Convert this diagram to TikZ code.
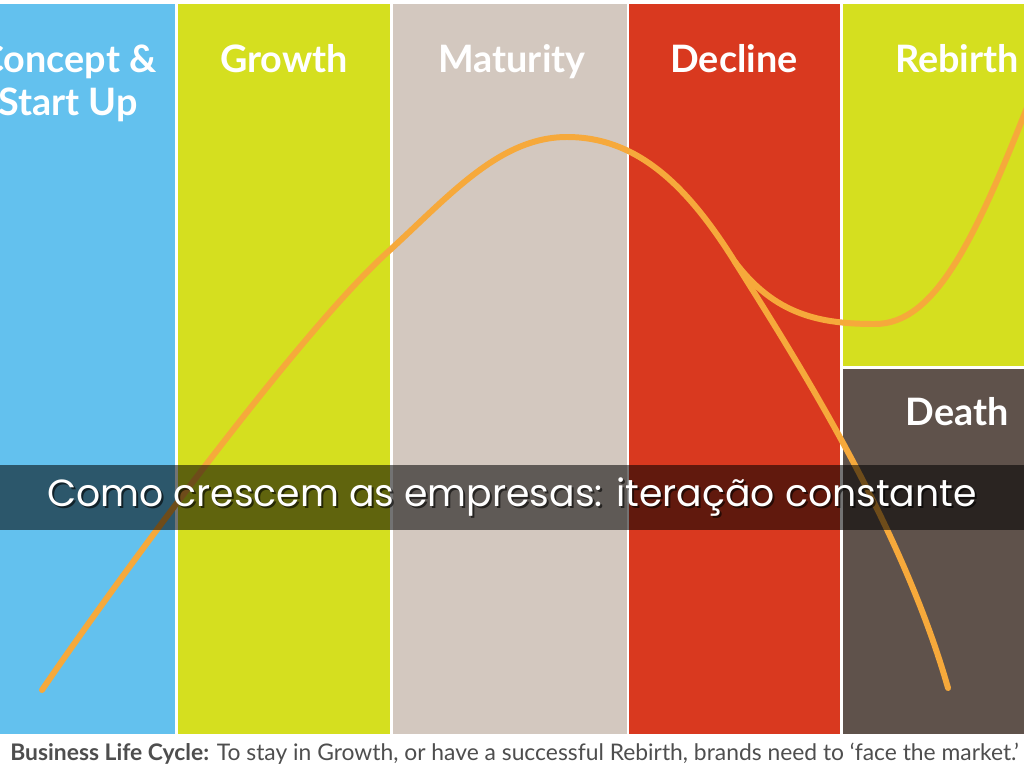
\documentclass[tikz,border=0pt]{standalone}
\usepackage{fontspec}
\setmainfont{Lato}
\newfontfamily\titlefont{Poppins}
\usepackage{tikz}
\usetikzlibrary{positioning}
\definecolor{skyblue}{HTML}{63C1EE}
\definecolor{limegreen}{HTML}{D5DF1F}
\definecolor{stone}{HTML}{D3C8BF}
\definecolor{brick}{HTML}{D9391F}
\definecolor{umber}{HTML}{5F524B}
\definecolor{amber}{HTML}{F6A93B}
\definecolor{captiongrey}{HTML}{4E4E4E}
\tikzset{
  phase/.style={text=white, font=\bfseries\fontsize{21.5}{24.4}\selectfont, align=center, inner sep=0pt, anchor=base},
  lifecurve/.style={draw=amber, line width=3.4pt, line cap=round, line join=round},
  band/.style={fill=black, fill opacity=0.55},
  headline/.style={text=white, font=\titlefont\fontsize{21.5}{25}\selectfont, inner sep=0pt},
  caption/.style={text=captiongrey, font=\fontsize{13}{15}\selectfont, inner sep=0pt, anchor=base west},
}

\begin{document}
\begin{tikzpicture}[x=0.02cm, y=-0.02cm]
  \useasboundingbox (0,0) rectangle (1024,768);
  \clip (0,0) rectangle (1024,768);
  \fill[white] (0,0) rectangle (1024,768);
  % columns
  \fill[skyblue] (0,4) rectangle (175,734);
  \fill[limegreen] (178,4) rectangle (390,734);
  \fill[stone] (393,4) rectangle (627,734);
  \fill[brick] (629,4) rectangle (840,734);
  \fill[limegreen] (843,4) rectangle (1024,366);
  \fill[umber] (843,369) rectangle (1024,734);
  % phase labels
  \node[phase] (concept) at (68,115) {Concept \&\\Start Up};
  \node[phase] (growth) at (284,72) {Growth};
  \node[phase] (maturity) at (512,72) {Maturity};
  \node[phase] (decline) at (734,72) {Decline};
  \node[phase] (rebirth) at (957,72) {Rebirth};
  \node[phase] (death) at (957,425) {Death};
  % the curve
  \draw[lifecurve] (42,690) .. controls (110,590) and (300,330) .. (390,250)
    .. controls (450,195) and (500,137) .. (567,137)
    .. controls (640,137) and (690,190) .. (735,262)
    .. controls (790,350) and (900,520) .. (948,688);
  \draw[lifecurve] (735,262) .. controls (775,315) and (820,324) .. (875,324)
    .. controls (935,324) and (975,240) .. (1030,100);
  % title band
  \fill[band] (0,465) rectangle (1024,530);
  \node[headline, text=black, opacity=0.6] at (514,499) {Como crescem as empresas: itera\c{c}\~ao constante};
  \node[headline] (title) at (512,497) {Como crescem as empresas: itera\c{c}\~ao constante};
  % caption
  \node[caption] (note) at (10,760) {\textbf{Business Life Cycle:} To stay in Growth, or have a successful Rebirth, brands need to `face the market.'};
\end{tikzpicture}
\end{document}
